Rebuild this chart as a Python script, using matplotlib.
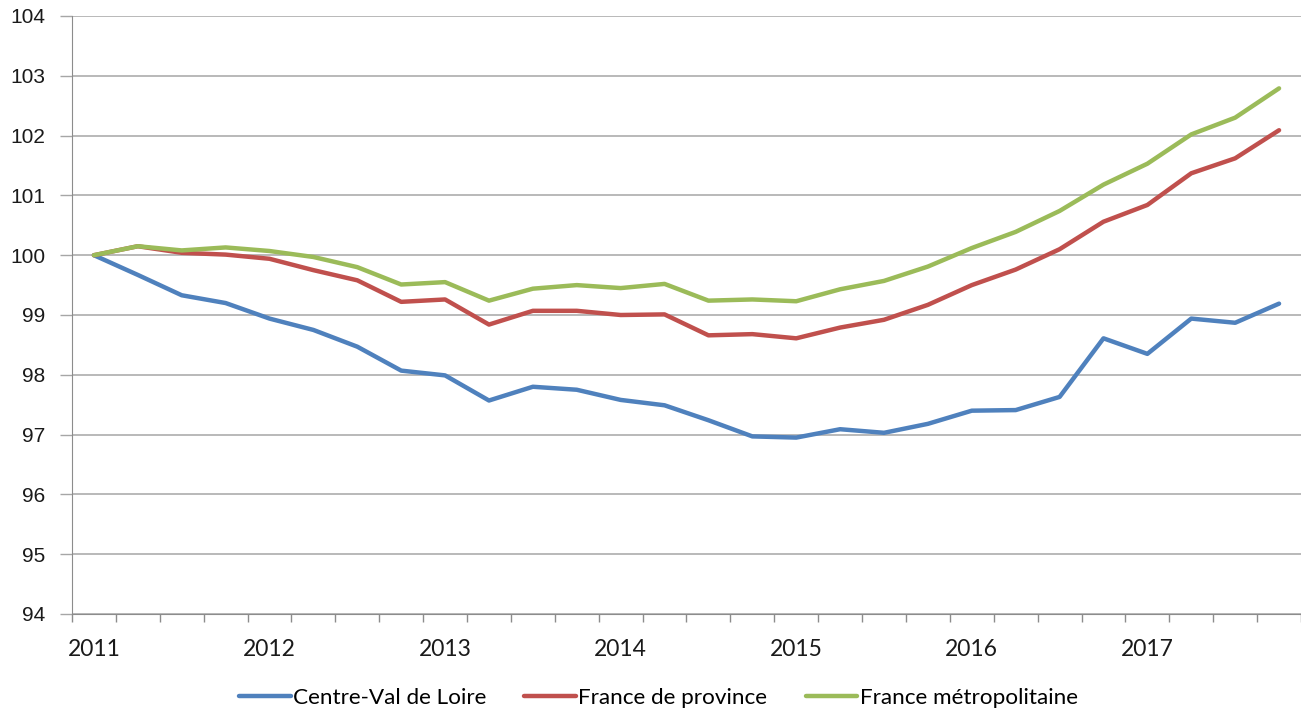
import numpy as np
from matplotlib import pyplot as plt

# quarterly index, base 100 = 2011 Q1
YEARS = ["2011", "2012", "2013", "2014", "2015", "2016", "2017"]

centre_val_de_loire = [
    100.00, 99.67, 99.33, 99.20, 98.94, 98.75, 98.47, 98.07,
    97.99, 97.57, 97.80, 97.75, 97.58, 97.49, 97.24, 96.97,
    96.95, 97.09, 97.03, 97.18, 97.40, 97.41, 97.63, 98.61,
    98.35, 98.94, 98.87, 99.19,
]
france_province = [
    100.00, 100.15, 100.04, 100.01, 99.94, 99.75, 99.58, 99.22,
    99.26, 98.84, 99.07, 99.07, 99.00, 99.01, 98.66, 98.68,
    98.61, 98.79, 98.92, 99.17, 99.50, 99.76, 100.10, 100.56,
    100.84, 101.37, 101.62, 102.09,
]
france_metro = [
    100.00, 100.15, 100.08, 100.13, 100.07, 99.97, 99.80, 99.51,
    99.55, 99.24, 99.44, 99.50, 99.45, 99.52, 99.24, 99.26,
    99.23, 99.43, 99.57, 99.81, 100.12, 100.39, 100.74, 101.18,
    101.53, 102.02, 102.30, 102.79,
]

SERIES = [
    ("Centre-Val de Loire", centre_val_de_loire, "#4F81BD"),
    ("France de province", france_province, "#C0504D"),
    ("France métropolitaine", france_metro, "#9BBB59"),
]

W, H = 1301, 709
fig = plt.figure(figsize=(W / 100, H / 100), dpi=100)
ax = fig.add_axes([72 / W, 1 - 614 / H, 1 - 72 / W, (614 - 16) / H])

x = np.arange(len(centre_val_de_loire))
for label, values, color in SERIES:
    ax.plot(x, values, color=color, lw=3.2, label=label, solid_capstyle="round")

ax.set_ylim(94, 104)
ax.set_xlim(-0.5, 27.06)
ax.set_yticks(range(94, 105))
ax.yaxis.grid(True, color="#A6A6A6", lw=1.1)
ax.set_axisbelow(True)

ax.set_xticks(np.arange(0, len(x), 4))
ax.set_xticklabels(YEARS)
ax.set_xticks(np.arange(-0.5, len(x), 1), minor=True)
ax.tick_params(axis="x", which="major", length=0, pad=18,
               labelsize=16.5, labelcolor="#1a1a1a")
ax.tick_params(axis="x", which="minor", length=6, width=1, color="#8C8C8C")
ax.tick_params(axis="y", length=9, width=1, color="#A6A6A6", pad=10,
               labelsize=15, labelcolor="#1a1a1a")
for lab in ax.get_xticklabels():
    lab.set_fontfamily("Lato")
for lab in ax.get_yticklabels():
    lab.set_fontfamily("Liberation Sans")

for side in ["top", "right"]:
    ax.spines[side].set_visible(False)
ax.spines["left"].set_color("#8C8C8C")
ax.spines["bottom"].set_color("#8C8C8C")

fig.legend(loc="center", bbox_to_anchor=(0.506, 0.016), ncol=3, frameon=False,
           handlelength=2.3, columnspacing=1.7, handletextpad=0.1,
           prop={"family": "Lato", "size": 16.2})

fig.savefig("out.png", dpi=100)
